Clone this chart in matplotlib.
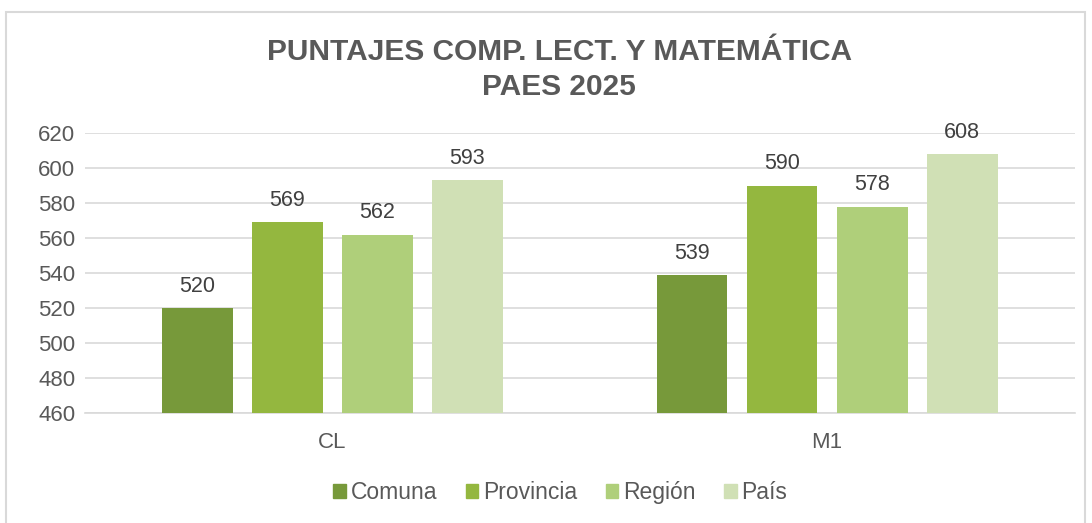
import matplotlib
matplotlib.use("Agg")
import matplotlib.pyplot as plt
import matplotlib.patches as mpatches
import numpy as np

plt.rcParams["font.family"] = ["Liberation Sans", "DejaVu Sans"]

categories = ["CL", "M1"]
series = ["Comuna", "Provincia", "Región", "País"]
values = {
    "Comuna": [520, 539],
    "Provincia": [569, 590],
    "Región": [562, 578],
    "País": [593, 608],
}
colors = ["#77993A", "#94B73F", "#AFCF7A", "#D0E0B5"]
yticks = [460, 480, 500, 520, 540, 560, 580, 600, 620]

TEXT = "#595959"
GRID = "#D9D9D9"

fig = plt.figure(figsize=(10.92, 5.23), dpi=100)
ax = fig.add_axes([0.0778, 0.2103, 0.9062, 0.5354])

x = np.arange(len(categories))
width = 0.143
step = 0.182
for i, (name, col) in enumerate(zip(series, colors)):
    pos = x + (i - 1.5) * step
    bars = ax.bar(pos, values[name], width=width, color=col, bottom=0, zorder=3, label=name)
    for b, v in zip(bars, values[name]):
        ax.annotate(str(v), xy=(b.get_x() + b.get_width() / 2, v), xytext=(0, 8),
                    textcoords="offset points", ha="center", va="bottom",
                    fontsize=15.5, color="#404040")

ax.set_ylim(460, 620)
ax.set_xlim(-0.5, 1.5)
ax.set_yticks(yticks)
ax.set_xticks(x)
ax.set_xticklabels(categories)
ax.tick_params(axis="both", length=0, labelsize=16, labelcolor=TEXT)
ax.tick_params(axis="x", pad=14)
ax.tick_params(axis="y", pad=7)
ax.grid(axis="y", color=GRID, linewidth=1.2, zorder=0)
for s in ["top", "right", "left"]:
    ax.spines[s].set_visible(False)
ax.spines["bottom"].set_color(GRID)
ax.spines["bottom"].set_linewidth(1.2)

fig.text(0.512, 0.867, "PUNTAJES COMP. LECT. Y MATEMÁTICA\nPAES 2025", ha="center", va="center",
         fontsize=21.5, fontweight="bold", color=TEXT, linespacing=1.3)

handles = [mpatches.Patch(color=c, label=s) for s, c in zip(series, colors)]
leg = fig.legend(handles=handles, loc="center", bbox_to_anchor=(0.513, 0.058), ncol=4,
                 frameon=False, fontsize=16.5, handlelength=0.55, handleheight=0.55,
                 handletextpad=0.2, columnspacing=1.25)
for t in leg.get_texts():
    t.set_color(TEXT)

# chart border
fig.patches.append(mpatches.Rectangle((6 / 1092, -0.05), 1079 / 1092, 1.05 - 12 / 523,
                                      transform=fig.transFigure, fill=False,
                                      edgecolor="#D9D9D9", linewidth=1.5))

fig.savefig("out.png", dpi=100)
